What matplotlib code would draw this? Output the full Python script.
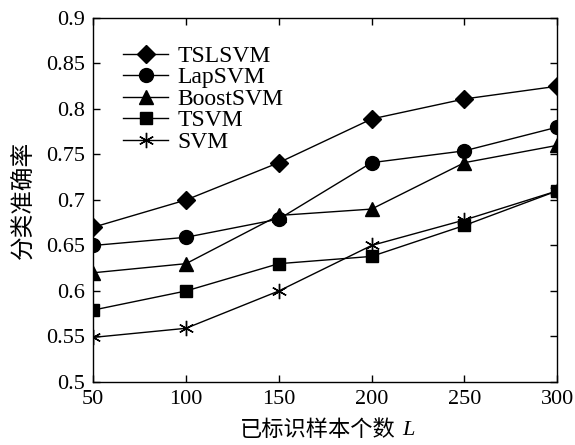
import matplotlib.pyplot as plt
from matplotlib.ticker import FuncFormatter

plt.rcParams['font.family'] = ['Liberation Serif', 'Noto Sans CJK SC']

# data
sizes_L = [50, 100, 150, 200, 250, 300]
tslsvm = [0.670, 0.700, 0.741, 0.789, 0.811, 0.825]
lapsvm = [0.650, 0.659, 0.679, 0.741, 0.754, 0.780]
boostsvm = [0.620, 0.630, 0.683, 0.690, 0.741, 0.760]
tsvm = [0.579, 0.600, 0.630, 0.638, 0.672, 0.710]
svm = [0.549, 0.559, 0.600, 0.650, 0.678, 0.710]

series = [
    ('TSLSVM', tslsvm, 'D', 9),
    ('LapSVM', lapsvm, 'o', 10),
    ('BoostSVM', boostsvm, '^', 10),
    ('TSVM', tsvm, 's', 9),
    ('SVM', svm, (6, 2, 0), 11),
]

fig = plt.figure(figsize=(5.75, 4.45), dpi=100)
ax = fig.add_axes([0.162, 0.1416, 0.807, 0.818])

for name, vals, mk, ms in series:
    ax.plot(sizes_L, vals, color='black', lw=1.0, marker=mk, ms=ms,
            mfc='black', mec='black', mew=1.0, label=name)

ax.set_xlim(50, 300)
ax.set_ylim(0.5, 0.9)
ax.set_xticks(sizes_L)
ax.set_yticks([0.5, 0.55, 0.6, 0.65, 0.7, 0.75, 0.8, 0.85, 0.9])
ax.yaxis.set_major_formatter(FuncFormatter(lambda v, p: '%g' % round(v, 2)))
ax.tick_params(direction='in', top=True, right=True, labelsize=16, length=5, width=1, pad=6)
for sp in ax.spines.values():
    sp.set_linewidth(1.0)

# x label: Chinese text followed by an italic L
xl = ax.set_xlabel('已标识样本个数', fontsize=16)
ax.xaxis.set_label_coords(0.485, -0.105)
ax.set_ylabel('分类准确率', fontsize=17, labelpad=8)

fig.canvas.draw()
bb = xl.get_window_extent()
fig.text(bb.x1 + 6, bb.y0 + 1, 'L', fontsize=16, style='italic',
         family='Liberation Serif', transform=None, va='bottom')

ax.legend(loc='upper left', bbox_to_anchor=(0.065, 0.925), frameon=False, fontsize=17,
          handlelength=1.9, handletextpad=0.4, labelspacing=0.0, borderpad=0,
          borderaxespad=0)

fig.savefig('out.png', dpi=100)
